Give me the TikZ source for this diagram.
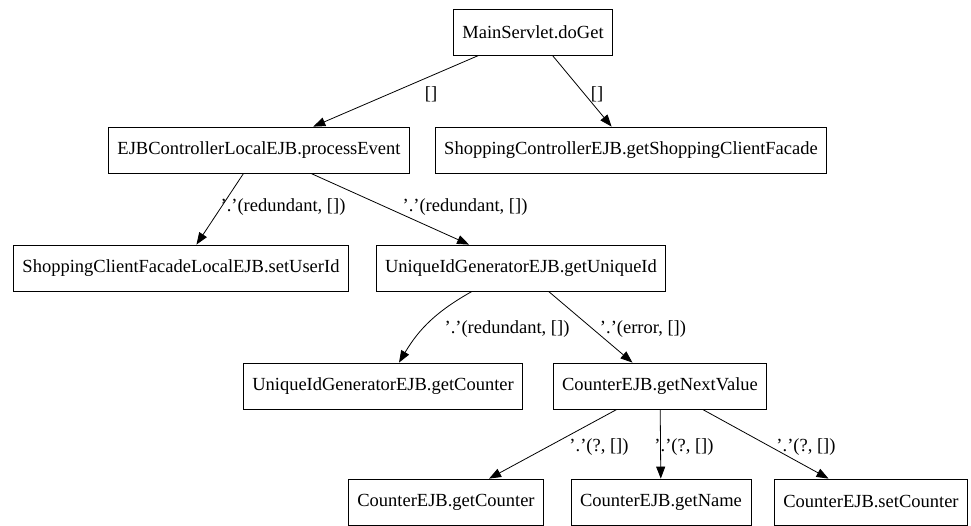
\documentclass[tikz,border=0pt]{standalone}
\usepackage{fontspec}
\setmainfont{Liberation Serif}
\usetikzlibrary{arrows.meta}
\tikzset{
  box/.style={draw, line width=0.8pt, minimum height=46pt, inner xsep=9pt, font=\fontsize{18.5}{20}\selectfont},
  edge/.style={-{Triangle[length=12pt,width=9pt]}, line width=0.8pt},
  lbl/.style={font=\fontsize{18.5}{20}\selectfont, inner sep=0pt}
}
\begin{document}
\begin{tikzpicture}[x=1pt,y=-1pt]
\useasboundingbox (0,0) rectangle (971,526);
% call tree nodes
\node[box] (main) at (533,32) {MainServlet.doGet};
\node[box] (proc) at (259,150) {EJBControllerLocalEJB.processEvent};
\node[box] (shop) at (631,150) {ShoppingControllerEJB.getShoppingClientFacade};
\node[box] (user) at (181,268) {ShoppingClientFacadeLocalEJB.setUserId};
\node[box] (uniq) at (521,268) {UniqueIdGeneratorEJB.getUniqueId};
\node[box] (uigc) at (383,386) {UniqueIdGeneratorEJB.getCounter};
\node[box] (next) at (660,386) {CounterEJB.getNextValue};
\node[box] (cget) at (446,502) {CounterEJB.getCounter};
\node[box] (cname) at (661,502) {CounterEJB.getName};
\node[box] (cset) at (871,502) {CounterEJB.setCounter};
% calls
\draw[edge] (main) -- (proc);
\draw[edge] (main) -- (shop);
\draw[edge] (proc) -- (user);
\draw[edge] (proc) -- (uniq);
\draw[edge] (uniq) to[bend right=15] (uigc);
\draw[edge] (uniq) -- (next);
\draw[edge] (next) -- (cget);
\draw[edge] (next) -- (cname);
\draw[edge] (next) -- (cset);
% labels
\node[lbl] (l1) at (431,94) {[]};
\node[lbl] (l2) at (597,94) {[]};
\node[lbl] (l3) at (283,207) {'.'(redundant, [])};
\node[lbl] (l4) at (465,207) {'.'(redundant, [])};
\node[lbl] (l5) at (507,329) {'.'(redundant, [])};
\node[lbl] (l6) at (643,329) {'.'(error, [])};
\node[lbl] (l7) at (599,447) {'.'(?, [])};
\node[lbl] (l8) at (684,447) {'.'(?, [])};
\node[lbl] (l9) at (806,447) {'.'(?, [])};
\end{tikzpicture}
\end{document}
